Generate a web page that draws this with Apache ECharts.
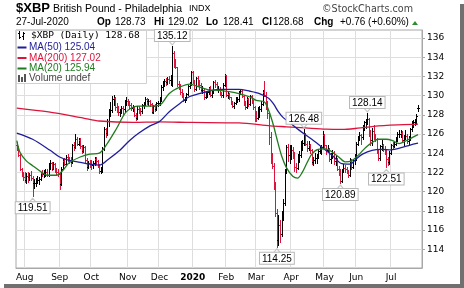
<!DOCTYPE html>
<html><head><meta charset="utf-8">
<script src="https://cdn.jsdelivr.net/npm/echarts@6/dist/echarts.min.js"></script>
<style>html,body{margin:0;padding:0;background:#fff}#c{width:464px;height:288px}</style>
</head><body><div id="c"></div>
<script>
// ---- trading days (categories), grouped by month ----
const tradingDays = [
 ['2019-07', [25,26,29,30,31]],
 ['2019-08', [1,2,5,6,7,8,9,12,13,14,15,16,19,20,21,22,23,26,27,28,29,30]],
 ['2019-09', [3,4,5,6,9,10,11,12,13,16,17,18,19,20,23,24,25,26,27,30]],
 ['2019-10', [1,2,3,4,7,8,9,10,11,14,15,16,17,18,21,22,23,24,25,28,29,30,31]],
 ['2019-11', [1,4,5,6,7,8,11,12,13,14,15,18,19,20,21,22,25,26,27,29]],
 ['2019-12', [2,3,4,5,6,9,10,11,12,13,16,17,18,19,20,23,24,26,27,30,31]],
 ['2020-01', [2,3,6,7,8,9,10,13,14,15,16,17,21,22,23,24,27,28,29,30,31]],
 ['2020-02', [3,4,5,6,7,10,11,12,13,14,18,19,20,21,24,25,26,27,28]],
 ['2020-03', [2,3,4,5,6,9,10,11,12,13,16,17,18,19,20,23,24,25,26,27,30,31]],
 ['2020-04', [1,2,3,6,7,8,9,13,14,15,16,17,20,21,22,23,24,27,28,29,30]],
 ['2020-05', [1,4,5,6,7,8,11,12,13,14,15,18,19,20,21,22,26,27,28,29]],
 ['2020-06', [1,2,3,4,5,8,9,10,11,12,15,16,17,18,19,22,23,24,25,26,29,30]],
 ['2020-07', [1,2,6,7,8,9,10,13,14,15,16,17,20,21,22,23,24,27]]
];
const monthLabels = ['', 'Aug','Sep','Oct','Nov','Dec','2020','Feb','Mar','Apr','May','Jun','Jul'];
const yTicks = [114,116,118,120,122,124,126,128,130,132,134,136];

// ---- daily OHLC (one line per month) ----
const open = [
 124.9,124.5,123.8,122.3,121.7,
 121.5,121.2,121.6,121.5,121.7,121.4,120.9,120.9,121.1,121.2,121.3,121.9,121.8,121.8,122.0,121.7,122.8,123.0,122.4,122.9,122.2,122.0,
 121.8,120.8,122.4,123.2,122.9,123.6,123.4,123.3,123.1,124.8,124.6,125.5,125.0,125.4,124.7,124.2,124.6,123.3,122.6,123.0,
 122.9,122.8,123.0,123.4,123.2,122.8,122.1,122.2,124.4,126.5,126.1,127.4,128.3,128.5,129.6,129.7,128.8,128.6,128.3,128.4,128.7,128.6,129.3,
 129.4,129.3,129.0,128.7,128.7,128.0,127.7,128.6,128.5,128.4,129.0,129.1,129.6,129.4,129.4,129.1,128.3,128.9,128.6,129.2,
 129.2,129.5,130.9,131.3,131.5,131.4,131.7,131.6,131.8,134.4,133.3,133.0,131.2,130.9,130.4,130.1,129.5,129.6,130.2,131.0,131.2,
 132.5,131.5,130.7,131.8,131.2,131.1,130.6,130.6,129.8,130.2,130.4,130.8,130.1,130.4,131.4,131.2,130.7,130.7,130.2,130.1,131.1,
 132.1,130.1,130.2,129.8,129.2,128.9,129.2,129.6,129.6,130.4,130.5,130.0,129.1,128.8,129.6,129.1,130.0,129.4,128.8,
 128.3,127.7,128.1,128.6,129.1,130.4,130.1,129.0,128.2,125.7,123.3,122.7,120.6,117.8,115.0,116.5,115.6,117.6,118.8,122.0,124.6,123.8,
 124.0,124.3,123.9,122.6,122.5,123.7,123.8,124.9,125.1,126.0,125.0,124.5,124.9,124.3,123.1,123.3,123.5,123.6,124.2,124.3,124.6,
 125.9,124.8,124.3,124.4,123.4,123.7,124.0,123.2,123.3,122.4,122.0,121.1,122.2,122.5,122.4,122.1,121.7,123.2,122.6,123.3,
 123.4,125.0,125.6,125.9,125.7,126.7,127.2,127.3,127.6,126.0,125.4,126.3,125.7,125.5,124.2,123.5,124.7,124.8,124.4,124.2,123.4,123.1,
 124.0,124.8,124.7,125.0,125.5,126.0,126.0,126.1,125.4,125.6,125.8,125.3,125.6,126.5,127.2,127.2,127.3,128.73
];
const high = [
 125.2,124.7,123.9,122.5,122.0,
 122.0,121.9,122.0,121.9,122.1,121.6,121.3,121.4,121.6,121.5,122.0,122.2,122.2,122.3,122.4,123.0,123.3,123.1,123.1,123.0,122.5,122.3,
 121.9,122.6,123.4,123.5,123.8,123.9,123.6,123.6,125.0,125.2,126.0,125.7,125.6,125.6,124.8,124.9,124.7,123.5,123.2,123.3,
 123.3,123.2,123.6,123.6,123.3,122.9,122.6,124.6,126.7,126.6,127.6,128.6,129.3,130.0,130.1,129.9,129.2,128.9,128.6,128.9,128.9,129.5,129.8,
 129.6,129.4,129.2,129.0,128.8,128.2,128.9,128.9,128.7,129.1,129.3,129.8,129.7,129.6,129.5,129.2,129.0,129.1,129.3,129.4,
 129.8,131.1,131.5,131.7,131.8,131.9,132.0,132.1,135.12,134.6,133.8,133.0,131.5,131.2,130.7,130.3,129.8,130.3,131.1,131.4,132.6,
 132.6,131.6,131.9,132.0,131.6,131.3,131.0,130.7,130.4,130.5,130.9,131.0,130.6,131.5,131.6,131.4,131.0,130.9,130.4,131.3,132.2,
 132.1,130.5,130.3,129.9,129.4,129.3,129.8,129.9,130.5,130.7,130.6,130.1,129.4,129.8,129.7,130.1,130.1,129.5,128.9,
 128.4,128.8,128.9,129.4,130.6,131.5,130.4,129.4,128.3,126.2,124.0,123.0,121.0,118.2,117.6,117.0,118.0,119.2,122.3,124.9,125.0,124.8,
 124.8,124.6,124.1,123.0,123.9,124.2,125.3,125.4,126.48,126.1,125.3,125.3,125.0,124.4,123.6,124.0,123.9,124.4,124.7,124.9,126.3,
 126.0,124.9,124.8,124.5,124.0,124.3,124.2,123.8,123.5,122.7,122.4,122.4,122.9,122.8,122.6,122.2,123.5,123.4,123.4,123.9,
 125.2,125.8,126.2,126.0,126.9,127.4,127.6,128.14,127.7,126.4,126.6,126.9,126.0,125.6,124.4,124.8,125.4,125.0,124.7,124.3,123.6,124.2,
 125.0,125.2,125.3,125.7,126.2,126.4,126.4,126.3,125.9,126.4,126.0,125.8,126.6,127.4,127.5,127.6,128.1,129.02
];
const low = [
 124.3,123.7,122.2,121.6,121.2,
 121.0,120.9,121.0,121.2,121.2,119.51,120.4,120.6,120.9,120.8,121.2,121.6,121.5,121.6,121.6,121.6,122.3,122.2,122.3,122.0,121.8,121.6,
 120.3,120.7,122.3,122.8,122.8,123.2,123.0,122.7,123.0,124.3,124.5,124.8,124.8,124.5,124.0,124.1,123.1,122.2,122.5,122.6,
 122.4,122.5,122.8,122.9,122.6,121.9,121.9,122.0,124.3,125.7,125.9,126.8,127.9,128.3,129.0,128.5,128.3,128.0,127.9,128.2,128.1,128.3,129.0,
 129.0,128.7,128.5,128.4,127.9,127.5,127.6,128.2,128.0,128.2,128.7,129.0,129.1,129.0,128.9,128.2,128.2,128.4,128.5,128.9,
 129.0,129.4,130.6,131.0,131.1,131.2,131.3,131.1,131.0,133.0,132.9,131.0,130.7,130.2,129.9,129.4,129.3,129.5,130.1,130.8,131.1,
 131.3,130.5,130.6,131.0,130.7,130.5,130.3,129.6,129.7,129.9,130.2,130.0,129.9,130.3,130.9,130.6,130.4,130.1,129.9,129.9,131.0,
 130.0,129.7,129.6,129.1,128.8,128.7,129.1,129.3,129.4,130.2,129.8,129.0,128.6,128.7,128.9,129.0,129.2,128.6,127.3,
 127.3,127.6,127.8,128.4,129.0,130.0,128.6,127.7,125.0,123.0,122.5,120.3,117.5,114.25,114.4,114.8,115.4,117.0,118.6,121.9,123.2,123.0,
 123.4,123.5,122.1,122.0,122.4,123.1,123.6,124.3,124.9,124.8,124.2,124.3,124.0,122.9,122.8,123.0,123.0,123.5,124.0,123.9,124.5,
 124.6,123.9,124.1,123.2,123.0,123.5,122.9,122.8,122.2,121.7,120.89,121.0,122.0,122.0,121.9,121.5,121.6,122.3,122.5,122.9,
 123.3,124.8,125.4,125.0,125.5,126.4,126.6,127.0,125.8,124.9,124.9,125.5,125.3,124.0,123.3,123.3,124.3,124.2,123.9,122.51,122.8,122.9,
 123.9,124.5,124.6,124.8,125.3,125.7,125.7,125.2,124.8,125.5,125.1,125.0,125.4,126.3,126.7,126.9,127.0,128.41
];
const close = [
 124.5,123.8,122.3,121.7,121.5,
 121.2,121.6,121.5,121.7,121.4,120.9,120.9,121.1,121.2,121.3,121.9,121.8,121.8,122.0,121.7,122.8,123.0,122.4,122.9,122.2,122.0,121.8,
 120.8,122.4,123.2,122.9,123.6,123.4,123.3,123.1,124.8,124.6,125.5,125.0,125.4,124.7,124.2,124.6,123.3,122.6,123.0,122.9,
 122.8,123.0,123.4,123.2,122.8,122.1,122.2,124.4,126.5,126.1,127.4,128.3,128.5,129.6,129.7,128.8,128.6,128.3,128.4,128.7,128.6,129.3,129.4,
 129.3,129.0,128.7,128.7,128.0,127.7,128.6,128.5,128.4,129.0,129.1,129.6,129.4,129.4,129.1,128.3,128.9,128.6,129.2,129.2,
 129.5,130.9,131.3,131.5,131.4,131.7,131.6,131.8,134.4,133.3,133.0,131.2,130.9,130.4,130.1,129.5,129.6,130.2,131.0,131.2,132.5,
 131.5,130.7,131.8,131.2,131.1,130.6,130.6,129.8,130.2,130.4,130.8,130.1,130.4,131.4,131.2,130.7,130.7,130.2,130.1,131.1,132.1,
 130.1,130.2,129.8,129.2,128.9,129.2,129.6,129.6,130.4,130.5,130.0,129.1,128.8,129.6,129.1,130.0,129.4,128.8,128.3,
 127.7,128.1,128.6,129.1,130.4,130.1,129.0,128.2,125.7,123.3,122.7,120.6,117.8,115.0,116.5,115.6,117.6,118.8,122.0,124.6,123.8,124.0,
 124.3,123.9,122.6,122.5,123.7,123.8,124.9,125.1,126.0,125.0,124.5,124.9,124.3,123.1,123.3,123.5,123.6,124.2,124.3,124.6,125.9,
 124.8,124.3,124.4,123.4,123.7,124.0,123.2,123.3,122.4,122.0,121.1,122.2,122.5,122.4,122.1,121.7,123.2,122.6,123.3,123.4,
 125.0,125.6,125.9,125.7,126.7,127.2,127.3,127.6,126.0,125.4,126.3,125.7,125.5,124.2,123.5,124.7,124.8,124.4,124.2,123.4,123.1,124.0,
 124.8,124.7,125.0,125.5,126.0,126.0,126.1,125.4,125.6,125.8,125.3,125.6,126.5,127.2,127.2,127.3,127.92,128.68
];

// ---- moving averages: [dayIndex, value] ----
const ma20 = [[0,125.3],[2,124.1],[6,123.2],[10,122.7],[15,122.1],[19,121.7],[25,121.7],[29,122.2],[33,123.0],[40,123.6],[46,123.9],[52,124.0],[57,125.0],[63,126.6],[69,128.3],[76,128.9],[82,128.9],[90,129.0],[96,130.2],[103,130.9],[109,131.2],[115,130.9],[121,130.6],[128,130.55],[134,130.4],[140,130.2],[147,129.85],[151,129.5],[156,129.35],[158,128.8],[160,127.9],[162,126.8],[164,125.5],[167,123.7],[170,122.5],[174,121.6],[177,121.4],[180,122.0],[183,123.0],[186,123.9],[190,124.4],[195,124.45],[199,124.1],[203,123.6],[207,123.1],[211,123.2],[216,123.9],[220,124.6],[224,125.1],[228,125.45],[233,125.45],[237,125.3],[241,125.0],[245,125.25],[249,125.6],[253,125.94]];
const ma50 = [[0,126.1],[10,125.45],[21,124.3],[27,123.6],[33,123.25],[40,123.05],[46,122.85],[52,122.75],[58,123.4],[65,124.3],[71,125.3],[77,126.1],[84,126.85],[90,127.3],[96,128.3],[103,129.2],[109,129.9],[115,130.2],[121,130.45],[128,130.65],[134,130.65],[140,130.65],[147,130.45],[153,130.2],[159,129.7],[162,129.1],[165,128.3],[168,127.7],[172,127.2],[178,126.4],[186,125.45],[193,124.55],[199,123.75],[205,122.9],[210,122.85],[214,123.4],[218,123.9],[224,124.3],[230,124.4],[236,124.35],[243,124.6],[248,124.85],[253,125.04]];
const ma200 = [[0,128.7],[20,128.3],[42,127.65],[52,127.35],[73,127.2],[90,127.25],[110,127.2],[140,127.15],[160,126.85],[170,126.75],[182,126.63],[195,126.5],[205,126.47],[215,126.6],[225,126.8],[240,126.95],[253,127.02]];

// ---- labelled extremes: [dayIndex, value, side] ----
const extremes = [[10,119.51,'low'],[98,135.12,'high'],[164,114.25,'low'],[181,126.48,'high'],[204,120.89,'low'],[221,128.14,'high'],[233,122.51,'low']];

// ---- build categories ----
const cats = [];
const labelAt = {};
tradingDays.forEach(([m, days], mi) => {
  days.forEach((d, di) => {
    if (di === 0 && monthLabels[mi]) labelAt[cats.length] = monthLabels[mi];
    cats.push(m + '-' + String(d).padStart(2,'0'));
  });
});
cats.push('', ''); // right-hand padding

const RED = '#dc143c', BLACK = '#000';
const bars = close.map((c, i) => [i, open[i], high[i], low[i], c]);

const chart = echarts.init(document.getElementById('c'), null, {renderer:'canvas'});
const F = '"Liberation Sans", Arial, sans-serif';
const FD = '"DejaVu Sans", Verdana, sans-serif';
const isLab = (i) => labelAt[i] !== undefined;

function txt(x, y, text, font, fill, align) {
  return {type:'text', x, y, silent:true, z:100,
    style:{text, font, fill: fill || '#000', align: align || 'left', verticalAlign:'middle'}};
}
function ln(x1,y1,x2,y2,col,w){
  return {type:'line', silent:true, z:101, shape:{x1,y1,x2,y2}, style:{stroke:col, lineWidth:w||1}};
}

const graphics = [
  // drop shadow of the panel
  {type:'rect', shape:{x:460,y:4,width:4,height:284}, style:{fill:'#707070'}, silent:true},
  {type:'rect', shape:{x:4,y:284,width:460,height:4}, style:{fill:'#707070'}, silent:true},
  // title line 1
  txt(16, 8.5, '$XBP', 'bold 13px ' + F),
  txt(53, 9, 'British Pound - Philadelphia', '10.5px ' + F),
  txt(189, 9, 'INDX', '9px ' + F),
  txt(413, 9, '©StockCharts.com', '9.6px ' + FD, '#444', 'right'),
  // title line 2
  txt(16, 22.5, '27-Jul-2020', '10px ' + F),
  txt(97, 22.5, 'Op', 'bold 10px ' + F),
  txt(115, 22.5, '128.73', '10px ' + F),
  txt(154, 22.5, 'Hi', 'bold 10px ' + F),
  txt(168, 22.5, '129.02', '10px ' + F),
  txt(206, 22.5, 'Lo', 'bold 10px ' + F),
  txt(223, 22.5, '128.41', '10px ' + F),
  txt(262, 22.5, 'Cl', 'bold 10px ' + F),
  txt(273, 22.5, '128.68', '10px ' + F),
  txt(314, 22.5, 'Chg', 'bold 10px ' + F),
  txt(340, 22.5, '+0.76 (+0.60%)', '10px ' + F),
  {type:'polygon', silent:true, z:100, shape:{points:[[412,25],[418,25],[415,21]]}, style:{fill:'#2e8b2e'}},
  // legend box
  {type:'rect', silent:true, z:99, shape:{x:16.5,y:30.5,width:130,height:53}, style:{fill:'#fff', stroke:'#d0d0d0', lineWidth:1}},
  ln(19.5,31,19.5,39,'#000'), ln(18,33.5,19.5,33.5,'#000'), ln(19.5,37.5,21,37.5,'#000'),
  ln(23.5,32,23.5,40,'#000'), ln(22,36.5,23.5,36.5,'#000'), ln(23.5,33.5,25,33.5,'#000'),
  txt(31, 35.5, '$XBP (Daily) 128.68', '9.5px "DejaVu Sans Mono", monospace'),
  ln(17.5,47.5,26.5,47.5,'#1e1e9a',2), txt(29, 47.5, 'MA(50) 125.04', '10px ' + F, '#1e1e9a'),
  ln(17.5,58,26.5,58,RED,2), txt(29, 58, 'MA(200) 127.02', '10px ' + F, RED),
  ln(17.5,68.5,26.5,68.5,'#1e7b1e',2), txt(29, 68.5, 'MA(20) 125.94', '10px ' + F, '#1e7b1e'),
  {type:'rect', silent:true, z:101, shape:{x:18,y:75,width:2,height:7}, style:{fill:'#555'}},
  {type:'rect', silent:true, z:101, shape:{x:21,y:77,width:2,height:5}, style:{fill:'#555'}},
  {type:'rect', silent:true, z:101, shape:{x:24,y:74,width:2,height:8}, style:{fill:'#555'}},
  txt(29, 78.5, 'Volume undef', '10px ' + F, '#444')
];

chart.setOption({
  animation: false,
  backgroundColor: '#fff',
  grid: {left:16, right:42, top:30, bottom:20, show:true, borderColor:'#a8a8a8', borderWidth:1, backgroundColor:'#fff'},
  xAxis: {
    type:'category', data: cats, boundaryGap: true,
    axisLine:{show:true, lineStyle:{color:'#a8a8a8'}},
    axisTick:{show:false},
    axisLabel:{
      interval: (i) => isLab(i), margin: 5, color:'#000',
      fontFamily: FD, fontSize: 9,
      formatter: (v, i) => { const l = labelAt[i]; return l === '2020' ? '{b|2020}' : (l || ''); },
      rich: {b:{fontWeight:'bold', fontFamily: FD, fontSize: 9, color:'#000'}}
    },
    splitLine:{show:true, interval:(i) => isLab(i), lineStyle:{color:'#dedede', width:1}}
  },
  yAxis: {
    type:'value', position:'right', min:112.04, max:136.83, scale:true,
    axisLine:{show:true, lineStyle:{color:'#a8a8a8'}},
    axisTick:{show:true, length:3, lineStyle:{color:'#a8a8a8'}, customValues: yTicks},
    axisLabel:{color:'#000', fontFamily: FD, fontSize: 9, margin: 5, customValues: yTicks},
    splitLine:{show:true, lineStyle:{color:'#dedede', width:1}}
  },
  series: [
    {
      type:'custom', data: bars, z: 2, silent:true,
      encode: {x:0, y:[1,2,3,4]},
      renderItem: function(params, api) {
        const i = api.value(0);
        const ph = api.coord([i, api.value(2)]);
        const pl = api.coord([i, api.value(3)]);
        const po = api.coord([i, api.value(1)]);
        const pc = api.coord([i, api.value(4)]);
        const x = Math.round(ph[0]) + 0.5;
        const up = i === 0 ? close[i] >= open[i] : close[i] >= close[i-1];
        const style = {stroke: up ? BLACK : RED, lineWidth: 1};
        const yo = Math.round(po[1]) + 0.5, yc = Math.round(pc[1]) + 0.5;
        return {type:'group', children:[
          {type:'line', shape:{x1:x, y1:Math.round(ph[1]), x2:x, y2:Math.round(pl[1]) + 1}, style},
          {type:'line', shape:{x1:x-1.5, y1:yo, x2:x-0.5, y2:yo}, style},
          {type:'line', shape:{x1:x+0.5, y1:yc, x2:x+1.5, y2:yc}, style}
        ]};
      }
    },
    {type:'line', data: ma200, symbol:'none', smooth:0.3, z:3, silent:true, lineStyle:{color:RED, width:1.3}},
    {type:'line', data: ma50, symbol:'none', smooth:0.3, z:4, silent:true, lineStyle:{color:'#1e1e9a', width:1.3}},
    {type:'line', data: ma20, symbol:'none', smooth:0.3, z:5, silent:true, lineStyle:{color:'#1e7b1e', width:1.3}},
    {
      // small pointer notches of the value boxes
      type:'scatter', z:6, silent:true, symbol:'triangle',
      data: extremes.map(([i, v, side]) => ({
        value:[i, v],
        symbolSize: [7, 4],
        symbolRotate: side === 'low' ? 0 : 180,
        symbolOffset: [0, side === 'low' ? 4 : -3.5]
      })),
      itemStyle:{color:'#fff', borderColor:'#b8b8b8', borderWidth:1}
    },
    {
      type:'scatter', z:7, silent:true, symbolSize:1, itemStyle:{color:'rgba(0,0,0,0)'},
      data: extremes.map(([i, v, side]) => ({
        value:[i, v],
        label:{show:true, position: side === 'low' ? 'bottom' : 'top', distance: side === 'low' ? 5.5 : 5}
      })),
      label:{
        show:true,
        formatter: (p) => p.value[1].toFixed(2),
        fontFamily: F, fontSize: 10, color:'#000', opacity: 1,
        backgroundColor:'#fff', borderColor:'#b8b8b8', borderWidth:1, padding:[1,2,0,2]
      }
    }
  ],
  graphic: graphics
});
</script></body></html>
